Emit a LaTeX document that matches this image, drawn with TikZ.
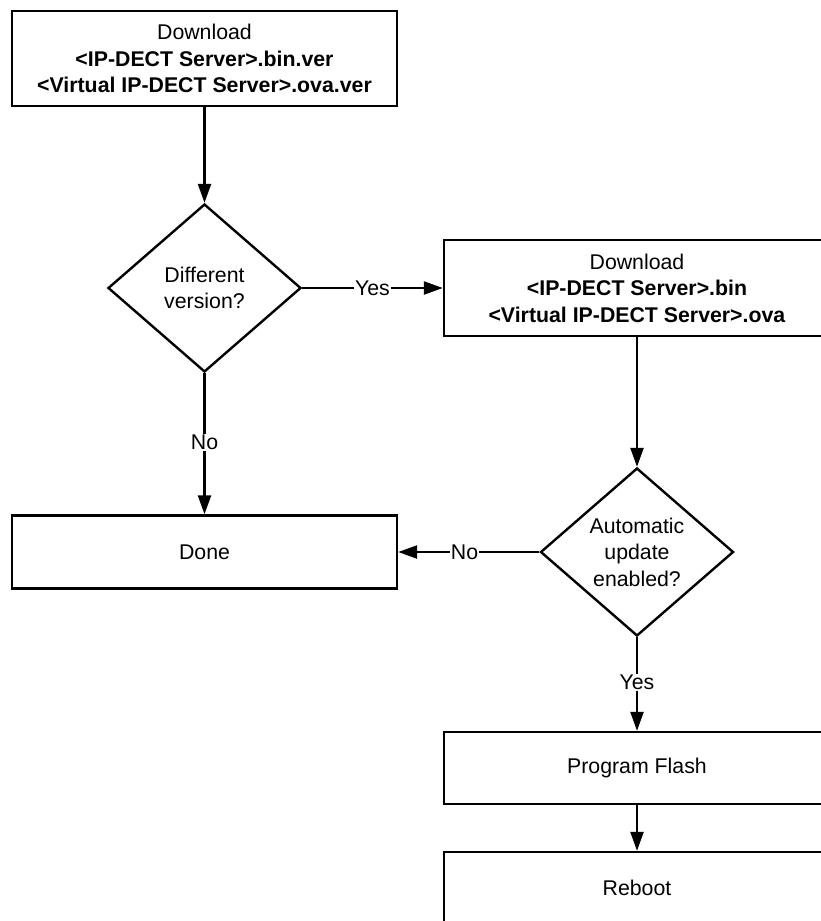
\documentclass[tikz,border=0pt]{standalone}
\usepackage{fontspec}
\setmainfont{Liberation Sans}
\usetikzlibrary{shapes.geometric,arrows.meta}
\begin{document}
\begin{tikzpicture}[x=1pt,y=-1pt,
  every node/.style={font=\fontsize{21.3}{26.5}\selectfont},
  procbox/.style={draw, line width=2.4pt, rectangle, align=center, inner sep=0pt},
  decision/.style={draw, line width=2.4pt, diamond, align=center, inner sep=0pt,
    minimum width=193pt, minimum height=168pt},
  flow/.style={line width=2.4pt, -{Triangle[length=19pt,width=13pt]}},
  lbl/.style={fill=white, inner sep=1pt}]
  \useasboundingbox (0,0) rectangle (821,921);
  \clip (0,0) rectangle (821,921);

  % process boxes
  \node[procbox, minimum width=385pt, minimum height=95pt] (dlver) at (204.5,58.5)
    {Download\\\textbf{<IP-DECT Server>.bin.ver}\\\textbf{<Virtual IP-DECT Server>.ova.ver}};
  \node[procbox, minimum width=386pt, minimum height=96pt] (dlimg) at (637,288)
    {Download\\\textbf{<IP-DECT Server>.bin}\\\textbf{<Virtual IP-DECT Server>.ova}};
  \node[procbox, minimum width=385pt, minimum height=73pt] (done) at (204.5,552) {Done};
  \node[procbox, minimum width=386pt, minimum height=72pt] (flash) at (637,768) {Program Flash};
  \node[procbox, minimum width=386pt, minimum height=72pt] (reboot) at (637,888) {Reboot};

  % decisions
  \node[decision] (diffver) at (204.5,288) {Different\\version?};
  \node[decision] (autoupd) at (637,552) {Automatic\\update\\enabled?};

  % connectors
  \draw[flow] (dlver) -- (diffver);
  \draw[flow] (diffver) -- node[lbl, pos=0.5] {Yes} (dlimg);
  \draw[flow] (diffver) -- node[lbl, pos=0.49] {No} (done);
  \draw[flow] (dlimg) -- (autoupd);
  \draw[flow] (autoupd) -- node[lbl, pos=0.53] {No} (done);
  \draw[flow] (autoupd) -- node[lbl, pos=0.48] {Yes} (flash);
  \draw[flow] (flash) -- (reboot);
\end{tikzpicture}
\end{document}
